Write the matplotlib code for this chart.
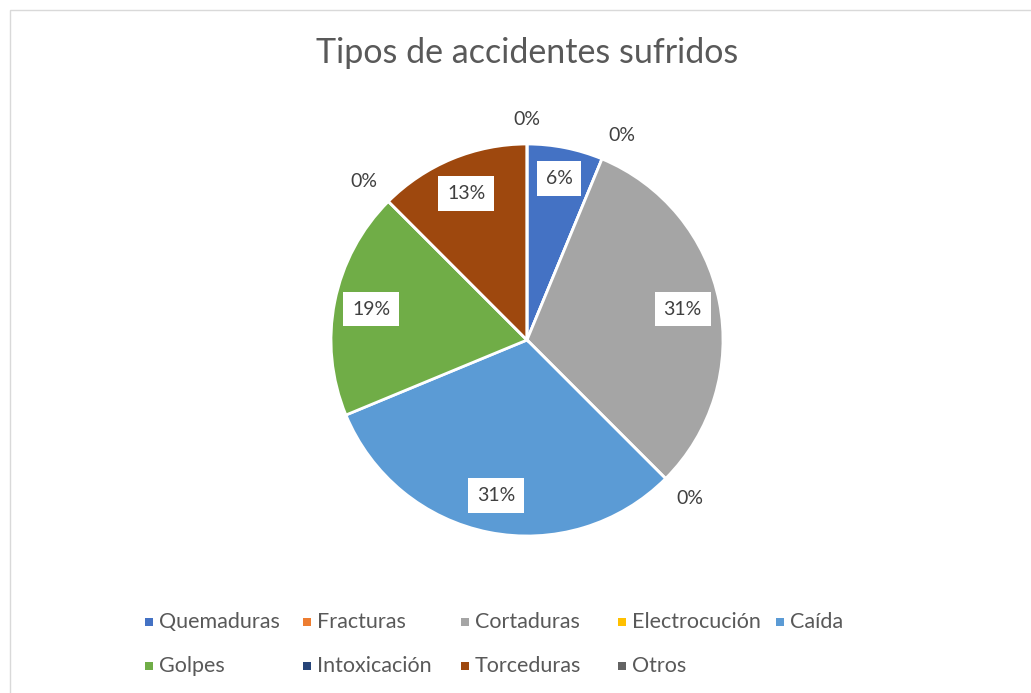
import matplotlib
matplotlib.use("Agg")
import matplotlib.pyplot as plt
from matplotlib.patches import Rectangle
import numpy as np

# datos
categorias = ["Quemaduras", "Fracturas", "Cortaduras", "Electrocución", "Caída",
              "Golpes", "Intoxicación", "Torceduras", "Otros"]
casos = [1, 0, 5, 0, 5, 3, 0, 2, 0]
colores = ["#4472C4", "#ED7D31", "#A5A5A5", "#FFC000", "#5B9BD5",
           "#70AD47", "#264478", "#9E480E", "#636363"]
titulo = "Tipos de accidentes sufridos"

W, H = 1031, 693
plt.rcParams["font.family"] = ["Lato", "DejaVu Sans"]
fig = plt.figure(figsize=(W / 100, H / 100), dpi=100)

# marco gris del area del grafico
fig.add_artist(Rectangle((9.5 / W, -0.05), 1.1, 1 - 10.5 / H + 0.05,
                         transform=fig.transFigure, fill=False,
                         edgecolor="#D9D9D9", lw=1))

fig.text(527 / W, 1 - 53 / H, titulo, ha="center", va="center",
         fontsize=24.5, color="#595959")

# pastel
cx, cy, r = 527, 340, 196
ax = fig.add_axes([(cx - r) / W, (H - cy - r) / H, 2 * r / W, 2 * r / H])
wedges, _ = ax.pie(casos, colors=colores, startangle=90, counterclock=False,
                   wedgeprops=dict(edgecolor="white", linewidth=2))
ax.set_xlim(-1, 1)
ax.set_ylim(-1, 1)
ax.axis("off")

total = sum(casos)
for i, (w, v) in enumerate(zip(wedges, casos)):
    mid = (w.theta1 + w.theta2) / 2
    ang = np.deg2rad(mid)
    c, s = np.cos(ang), np.sin(ang)
    txt = f"{int(100 * v / total + 0.5)}%"
    if v > 0:
        # las rebanadas estrechas llevan la etiqueta algo mas afuera
        d = 0.84 if w.theta2 - w.theta1 < 30 else 0.81
        ax.text(d * c, d * s, txt, ha="center", va="center",
                fontsize=14, color="#404040", clip_on=False,
                bbox=dict(boxstyle="square,pad=0.45", facecolor="white",
                          edgecolor="none"))
    else:
        ha = "left" if c > 0.2 else ("right" if c < -0.2 else "center")
        va = "bottom" if s > 0.2 else ("top" if s < -0.2 else "center")
        d = 1.08
        ax.text(d * c, d * s, txt, ha=ha, va=va, fontsize=14,
                color="#404040", clip_on=False)

# leyenda en rejilla de 5 columnas
for i, (cat, col) in enumerate(zip(categorias, colores)):
    fila, colu = divmod(i, 5)
    x = 149 + colu * 157.75
    y = 622 + fila * 44
    fig.add_artist(Rectangle(((x - 4) / W, (H - y - 4) / H), 8 / W, 8 / H,
                             transform=fig.transFigure, facecolor=col,
                             edgecolor="none"))
    fig.text((x + 10) / W, (H - y) / H, cat, ha="left", va="center",
             fontsize=15.5, color="#595959")

fig.savefig("out.png", dpi=100)
plt.close(fig)
